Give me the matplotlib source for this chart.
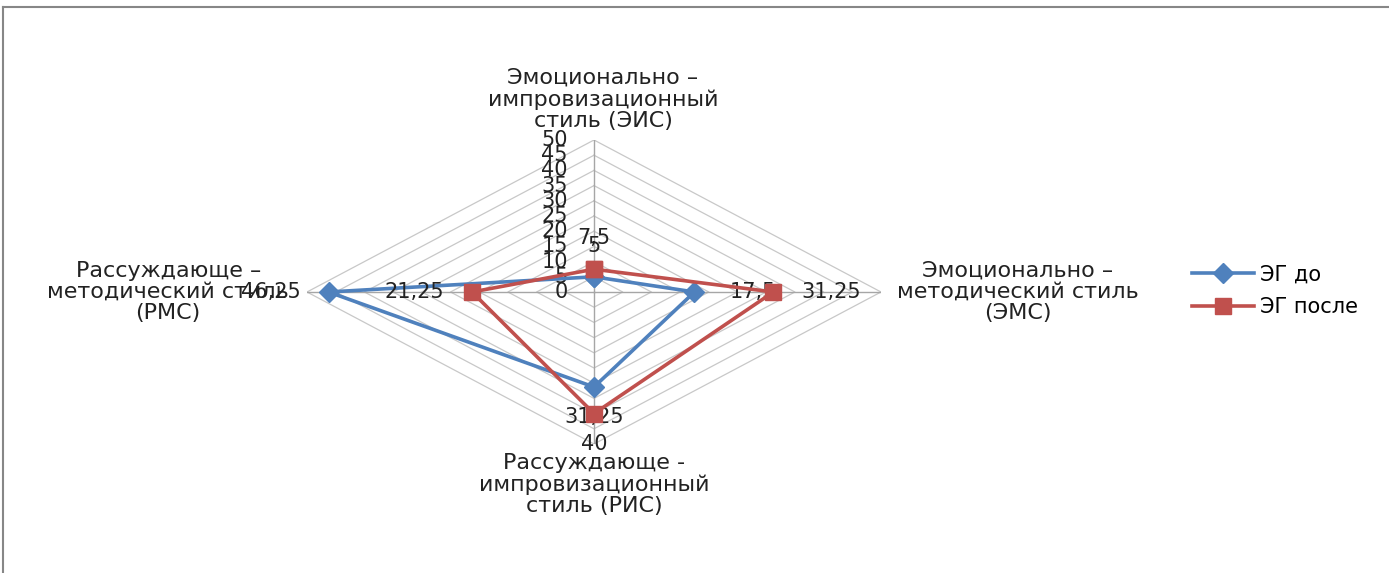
import matplotlib.pyplot as plt
from matplotlib.lines import Line2D
import numpy as np

# стили (оси лепестковой диаграммы): сверху, справа, снизу, слева
styles = ['Эмоционально –\nимпровизационный\nстиль (ЭИС)',
          'Эмоционально –\nметодический стиль\n(ЭМС)',
          'Рассуждающе -\nимпровизационный\nстиль (РИС)',
          'Рассуждающе –\nметодический стиль\n(РМС)']
eg_before = [5, 17.5, 31.25, 46.25]
eg_after = [7.5, 31.25, 40, 21.25]
ticks = [0, 5, 10, 15, 20, 25, 30, 35, 40, 45, 50]

BLUE = '#4F81BD'
RED = '#C0504D'

plt.rcParams['font.family'] = ['DejaVu Sans']

fig = plt.figure(figsize=(13.89, 5.73), dpi=100)
ax = fig.add_axes([307 / 1389, 129 / 573, 574 / 1389, 304 / 573])
ax.set_xlim(-50, 50)
ax.set_ylim(-50, 50)
ax.axis('off')

# направления осей: вверх, вправо, вниз, влево
ang = np.deg2rad([90, 0, -90, 180])
dx = np.round(np.cos(ang), 6)
dy = np.round(np.sin(ang), 6)

# сетка-ромбы
for t in ticks[1:]:
    ax.plot(np.append(dx * t, dx[0] * t), np.append(dy * t, dy[0] * t),
            color='#C8C8C8', lw=0.9, zorder=1)
for i in range(4):
    ax.plot([0, dx[i] * 50], [0, dy[i] * 50], color='#A6A6A6', lw=1.0, zorder=1)

# подписи шкалы
for t in ticks:
    ax.annotate(str(t), (0, t), xytext=(-26, 0), textcoords='offset pixels',
                ha='right', va='center', fontsize=15, color='#222222')


def fmt(v):
    return ('%g' % v).replace('.', ',')


def draw_series(vals, color, marker, ms, label, z):
    vals = np.array(vals, dtype=float)
    xs = np.append(dx * vals, dx[0] * vals[0])
    ys = np.append(dy * vals, dy[0] * vals[0])
    ax.plot(xs, ys, color=color, lw=2.6, marker=marker, markersize=ms,
            label=label, zorder=z, clip_on=False)
    offs = [(0, 31), (58, 0), (0, -30), (-58, 0)]
    for i, v in enumerate(vals):
        ax.annotate(fmt(v), (dx[i] * v, dy[i] * v), xytext=offs[i],
                    textcoords='offset pixels', ha='center', va='center',
                    fontsize=15, color='#222222', zorder=z - 0.5)


draw_series(eg_before, BLUE, 'D', 10, 'ЭГ до', 3)
draw_series(eg_after, RED, 's', 11, 'ЭГ после', 5)

# названия осей
lab_kw = dict(fontsize=16, color='#222222', multialignment='center', linespacing=1.08)
ax.annotate(styles[0], (0, 50), xytext=(9, 9), textcoords='offset pixels',
            ha='center', va='bottom', **lab_kw)
ax.annotate(styles[1], (50, 0), xytext=(16, 0), textcoords='offset pixels',
            ha='left', va='center', **lab_kw)
ax.annotate(styles[2], (0, -50), xytext=(0, -9), textcoords='offset pixels',
            ha='center', va='top', **lab_kw)
ax.annotate(styles[3], (-50, 0), xytext=(-18, 0), textcoords='offset pixels',
            ha='right', va='center', **lab_kw)

ax.legend(loc='center left', bbox_to_anchor=(1173 / 1389, 1 - 291 / 573),
          bbox_transform=fig.transFigure, frameon=False, fontsize=15,
          handlelength=3.0, labelspacing=0.6, handletextpad=0.3)

# рамка области диаграммы
fig.add_artist(Line2D([3 / 1389, 1], [1 - 7 / 573, 1 - 7 / 573],
                      transform=fig.transFigure, color='#878787', lw=1.5))
fig.add_artist(Line2D([3 / 1389, 3 / 1389], [0, 1 - 7 / 573],
                      transform=fig.transFigure, color='#878787', lw=1.5))

fig.savefig('out.png', dpi=100)
